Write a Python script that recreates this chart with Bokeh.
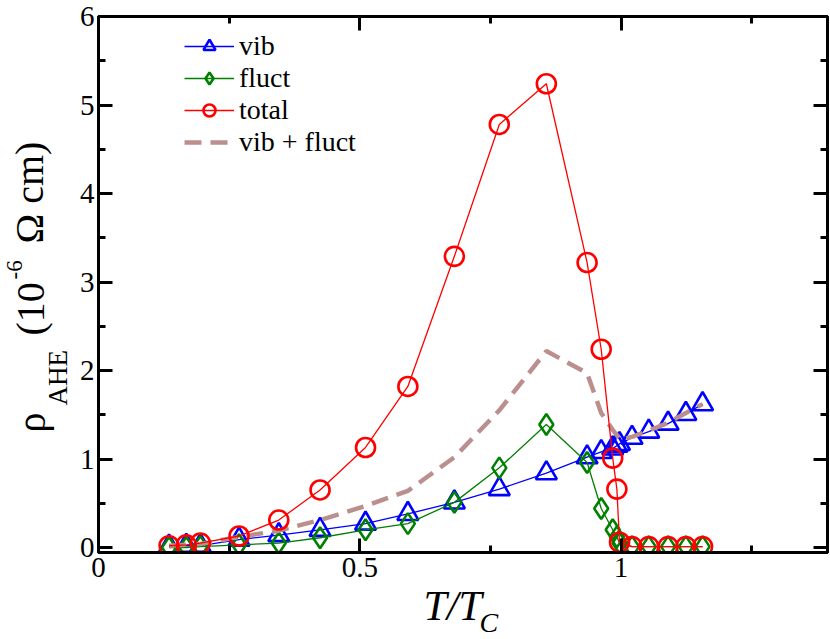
import numpy as np
from bokeh.plotting import figure
from bokeh.models import (Range1d, LinearAxis, FixedTicker, CustomJSTickFormatter,
                          Title, Legend, LegendItem)
from bokeh.embed import file_html
from bokeh.resources import INLINE

# ---------------- data ----------------
t_over_tc = [0.135, 0.168, 0.195, 0.269, 0.345, 0.424, 0.511, 0.592, 0.681, 0.767,
             0.857, 0.935, 0.962, 0.984, 0.992, 0.997, 1.021, 1.053, 1.090, 1.124, 1.156]
vib = [0.01, 0.02, 0.02, 0.09, 0.14, 0.20, 0.27, 0.38, 0.51, 0.66,
       0.84, 1.02, 1.08, 1.12, 1.15, 1.17, 1.24, 1.31, 1.40, 1.51, 1.62]
fluct = [0.0, 0.0, 0.01, 0.03, 0.05, 0.11, 0.20, 0.27, 0.51, 0.90,
         1.39, 0.96, 0.44, 0.20, 0.12, 0.05, 0.01, 0.01, 0.01, 0.01, 0.01]
total = [0.02, 0.03, 0.05, 0.13, 0.31, 0.65, 1.13, 1.82, 3.29, 4.78,
         5.24, 3.22, 2.24, 1.01, 0.66, 0.06, 0.01, 0.01, 0.01, 0.01, 0.01]
vib_plus_fluct = [0.02, 0.03, 0.04, 0.12, 0.19, 0.31, 0.47, 0.64, 1.02, 1.55,
                  2.22, 1.97, 1.52, 1.33, 1.27, 1.22, 1.25, 1.32, 1.41, 1.52, 1.62]

series_names = ["vib", "fluct", "total", "vib + fluct"]
x_major_ticks = [0, 0.5, 1]
x_minor_ticks = [0.25, 0.75, 1.25]
x_tick_labels = {0: "0", 0.5: "0.5", 1: "1"}
y_major_ticks = [0, 1, 2, 3, 4, 5, 6]
y_minor_ticks = [0.5, 1.5, 2.5, 3.5, 4.5, 5.5]

# ---------------- layout (page == figure coordinates) ----------------
W, H = 830, 639
FL, FR, FT, FB = 96, 827, 16, 552          # frame edges in px
BL, BR, BT, BB = FL, W - FR, FT, H - FB
PX_PER_X = 524.0
XMIN = 0.0
XMAX = XMIN + (FR - FL) / PX_PER_X
YMAX = 6.0
PX_PER_Y = (547 - FT) / 6.0
YMIN = YMAX - (FB - FT) / PX_PER_Y
SERIF = "Liberation Serif"
TICK_FS = 29

p = figure(width=W, height=H, x_range=Range1d(XMIN, XMAX), y_range=Range1d(YMIN, YMAX),
           output_backend="svg", toolbar_location=None,
           min_border_left=BL, min_border_right=BR, min_border_top=BT, min_border_bottom=BB)
p.xgrid.visible = False
p.ygrid.visible = False
p.outline_line_color = "black"
p.outline_line_width = 3
p.background_fill_color = "white"
p.border_fill_color = "white"


def style_axis(ax, major, minor, show_labels, standoff=5):
    ax.ticker = FixedTicker(ticks=major, minor_ticks=minor)
    ax.axis_line_width = 3
    ax.axis_line_color = "black"
    ax.major_tick_in = 14
    ax.major_tick_out = 0
    ax.minor_tick_in = 7
    ax.minor_tick_out = 0
    ax.major_tick_line_width = 3
    ax.minor_tick_line_width = 3
    ax.major_tick_line_color = "black"
    ax.minor_tick_line_color = "black"
    ax.axis_label = None
    if show_labels:
        ax.major_label_text_font = SERIF
        ax.major_label_text_font_size = f"{TICK_FS}px"
        ax.major_label_text_color = "black"
        ax.major_label_standoff = standoff
    else:
        ax.formatter = CustomJSTickFormatter(code="return ''")
        ax.major_label_text_font_size = "0px"
        ax.major_label_standoff = 0


style_axis(p.xaxis[0], x_major_ticks, x_minor_ticks, True, standoff=5)
p.xaxis[0].major_label_overrides = x_tick_labels
style_axis(p.yaxis[0], y_major_ticks, y_minor_ticks, True, standoff=4)

top_axis = LinearAxis()
style_axis(top_axis, x_major_ticks, x_minor_ticks, False)
p.add_layout(top_axis, "above")
right_axis = LinearAxis()
style_axis(right_axis, y_major_ticks, y_minor_ticks, False)
p.add_layout(right_axis, "right")

# ---------------- series ----------------
r_vib_l = p.line(t_over_tc, vib, line_color="#0000ff", line_width=1.3)
r_vib_m = p.scatter(t_over_tc, vib, marker="triangle", size=21, line_color="#0000ff",
                    fill_color=None, line_width=2.6)
r_fl_l = p.line(t_over_tc, fluct, line_color="#008000", line_width=1.3)
r_fl_m = p.scatter(t_over_tc, fluct, marker="diamond", size=21, line_color="#008000",
                   fill_color=None, line_width=2.6)
r_sum = p.line(t_over_tc, vib_plus_fluct, line_color="#bc8f8f", line_width=4.5,
               line_dash="17 9")
r_tot_l = p.line(t_over_tc, total, line_color="#ff0000", line_width=1.3)
r_tot_m = p.scatter(t_over_tc, total, marker="circle", size=19, line_color="#ff0000",
                    fill_color=None, line_width=2.6)

legend = Legend(items=[
    LegendItem(label=series_names[0], renderers=[r_vib_l, r_vib_m]),
    LegendItem(label=series_names[1], renderers=[r_fl_l, r_fl_m]),
    LegendItem(label=series_names[2], renderers=[r_tot_l, r_tot_m]),
    LegendItem(label=series_names[3], renderers=[r_sum]),
], location=(86, 394), orientation="vertical", border_line_color=None,
    background_fill_alpha=0, padding=0, margin=0, spacing=0,
    glyph_width=50, glyph_height=30, label_height=30, label_standoff=5,
    label_text_font=SERIF, label_text_font_size="28px", label_text_color="black")
p.add_layout(legend)

# ---------------- axis titles built from Title pieces in the side panels ----------------
ASC, DESC = 0.891, 0.216
LH = ASC + DESC
MID = (ASC - DESC) / 2


def add_piece(side, text, fs, style, offset, w):
    """Title whose panel column is w px thick, text centred in it (vertical_align middle)."""
    s = w - 2 - LH * fs
    p.add_layout(Title(text=text, align="left", vertical_align="middle", offset=offset,
                       standoff=s, text_font=SERIF, text_font_size=f"{fs}px",
                       text_font_style=style, text_color="black"), side)
    return w


# left side (distances measured from the frame's left edge, outward)
edge = 4 + 0.5 * TICK_FS                      # y-axis panel width
c = FL - (68 - MID * 27)
edge += add_piece("left", "AHE", 27, "normal", FB - 405, 2 * (c - edge))
c_main = FL - (46 - MID * 40)
edge += add_piece("left", " ", 2, "normal", 0, c_main - edge)
for txt, start_y in [("ρ", 432), ("(10", 335), ("Ω cm)", 243)]:
    edge += add_piece("left", txt, 40, "normal", FB - start_y, 0)
c = FL - (21 - MID * 23)
edge += add_piece("left", "-6", 23, "normal", FB - 279, 2 * (c - edge))

# below (distances from the frame's bottom edge, downward)
edge = 29                                     # x-axis panel height
edge += add_piece("below", " ", 2, "normal", 0, 48 - edge)
for txt, start_x, base_y, fs in [("T/T", 421, 622, 42), ("C", 477, 634, 28)]:
    c = (base_y - MID * fs) - FB
    edge += add_piece("below", txt, fs, "italic", start_x - FL, 2 * (c - edge))

open("out.html", "w").write(file_html(p, INLINE))
